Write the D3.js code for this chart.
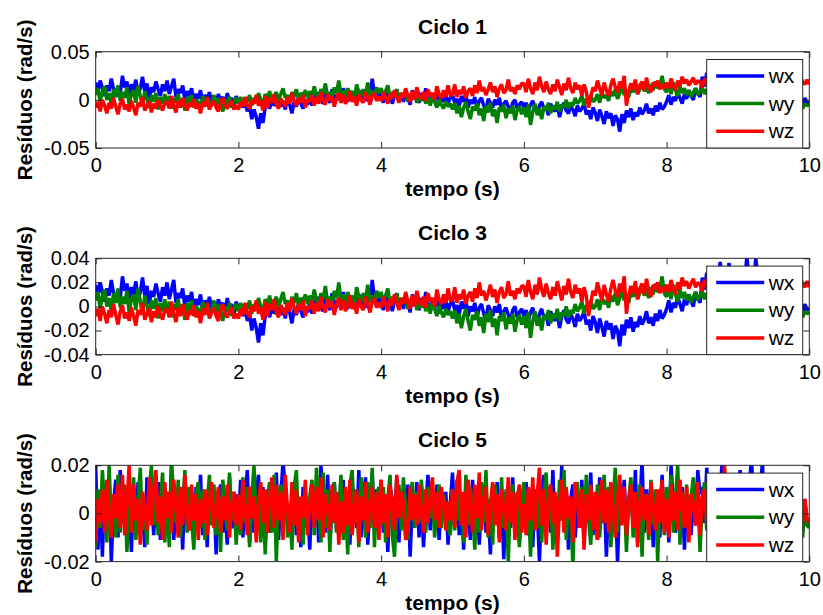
<!DOCTYPE html>
<html>
<head>
<meta charset="utf-8">
<script src="https://cdn.jsdelivr.net/npm/d3@7.9.0/dist/d3.min.js"></script>
<style>
  body { margin: 0; background: #fff; }
  svg { display: block; }
  text { font-family: Arial, "Liberation Sans", sans-serif; fill: #000; }
</style>
</head>
<body>
<svg id="chart" width="823" height="615"></svg>
<script>
// residuos, em 1e-3 rad/s, 32 amostras por segundo (0..10 s)
// ciclos 1 e 3 mostram os mesmos dados
const wxA = [
  18, 8, 20, 12, 4, 15, 9, 22, 11, 3, 14, 7, 25, 13, 19, 6, 16, 10, 21, 5, 12, 24, 9, 17, 2, 13, 8, 19, 11, 4, 16, 9,
  20, 6, 14, 22, 3, 11, 7, 15, 0, 9, 4, 12, -2, 6, 1, 10, -4, 5, 0, 8, -3, 4, -6, 6, -1, 3, -5, 7, -2, 2, -7, 4,
  -3, 2, -8, -2, -12, -6, -20, -10, -18, -30, -14, -24, -8, -3, -9, 1, -6, -2, 4, -7, -1, -10, 2, -5, -14, -2, -7, 3, -4, -9, 0, -5,
  3, -6, 5, -2, 8, 0, -4, 9, 2, -3, 11, 4, -1, 7, 1, 12, 3, -2, 8, 0, 6, -3, 10, 2, 5, -1, 9, 3, 22, 6, 0, 8,
  4, -3, 9, 2, 7, -4, 5, 11, 0, 6, -2, 8, 3, -5, 10, 1, 4, -3, 7, -1, 12, 2, -4, 5, 0, 8, -6, 3, -2, 6, -4, 2,
  5, -3, 1, -7, 4, -2, 6, -8, 0, -4, 3, -9, -1, 2, -6, -11, 1, -3, -8, 0, -5, 2, -10, -4, -1, -7, -12, -3, 0, -9, -5, -2,
  -8, -3, -11, -5, -1, -9, -14, -6, -2, -10, -7, -16, -4, -9, -12, -5, -18, -8, -3, -11, -14, -7, -10, -17, -6, -12, -9, -4, -15, -11, -20, -8,
  -13, -22, -10, -17, -25, -12, -19, -14, -27, -16, -20, -33, -15, -24, -11, -18, -9, -21, -13, -17, -8, -15, -11, -4, -14, -9, -16, -6, -12, -3, -10, -7,
  -2, 5, -5, 3, -1, 8, 2, -4, 6, 1, 10, 4, 0, 12, 7, 3, 24, 14, 28, 18, 25, 20, 30, 16, 37, 22, 27, 19, 36, 24, 29, 21,
  26, 18, 30, 22, 41, 24, 28, 17, 40, 23, 19, 26, 12, 8, 2, 9, -2, 3, -6, 1, -4, -8, 2, -5, 0, -7, 3, -4, -1, -6, 2, -3,
  -2];
const wyA = [
  5, 12, -2, 9, 14, 0, 7, -4, 11, 3, 15, -1, 8, 2, 13, -5, 6, 10, -3, 15, 4, -6, 9, 1, -8, 5, -2, 7, -10, 3, -4, 6,
  -5, 4, -9, 2, -3, 6, -7, 1, -11, 3, -4, 5, -8, 0, -2, -10, 4, -6, 1, -9, -3, 5, -7, 2, -5, -12, 0, -4, 3, -8, -1, 2,
  -4, 3, -7, 1, -2, 5, -6, 2, -3, 7, 0, -5, 6, 1, 9, -2, 4, 8, -1, 6, 12, 2, 5, -3, 8, 3, 11, 0, 7, 4, 10, 2,
  9, 3, 14, 5, 1, 11, 6, 17, 4, 8, 2, 13, 7, 20, 5, 10, 3, 12, 6, 9, 1, 16, 8, 4, 11, 6, 18, 3, 9, 5, 13, 7,
  12, 4, 9, 15, 2, 8, 5, 11, 0, 7, 3, 10, -2, 6, 1, 9, -3, 4, -1, 6, -4, 2, -6, 3, -2, -8, 1, -5, -9, -2, -7, -4,
  -10, -3, -14, -6, -18, -8, -2, -12, -20, -7, -11, -4, -16, -9, -22, -6, -13, -3, -17, -10, -24, -8, -12, -5, -19, -9, -14, -6, -21, -11, -7, -15,
  -8, -18, -5, -26, -12, -4, -16, -9, -20, -7, -11, -3, -14, -6, -10, -2, -12, -5, -8, 0, -9, -3, -6, 2, -4, -1, 4, -6, 1, -3, 5, -2,
  0, 6, -3, 8, 2, 5, -1, 9, 4, 11, 1, 7, 13, 5, 10, 3, 12, 8, 15, 6, 11, 17, 9, 13, 7, 16, 10, 19, 12, 15, 25, 11,
  8, 15, 6, 18, 10, 4, 14, 7, 12, 5, 10, 3, 8, 12, 5, 9, 13, 6, 11, 2, 9, 14, 7, 10, 4, 12, 8, 5, 11, 6, 9, 3,
  7, 11, 4, 9, 2, 8, 5, 10, 3, 6, 0, 7, 2, 5, -2, 4, 1, -3, 3, -5, 0, 2, -4, 1, -6, -2, -8, -3, -5, -9, -4, -6,
  -5];
const wzA = [
  -8, -2, -12, 0, -6, -14, -3, -9, 2, -7, -15, -4, 1, -10, -5, -12, -1, -8, -16, -3, -7, 3, -11, -6, -2, -13, -4, -9, 0, -6, -11, -3,
  -2, -9, 4, -6, -13, -1, -8, 2, -5, -11, -3, -7, 1, -9, -4, -14, -2, -7, 3, -10, -5, -1, -8, -12, -3, 2, -6, -9, -4, -1, -10, -6,
  -10, -2, -7, 3, -5, -9, 0, -4, 5, -6, -1, -11, 4, -8, 2, -3, 6, -5, -9, 1, -2, -7, 3, -4, 7, -1, -6, 2, -3, 5, -8, 0,
  -2, 5, -6, 3, -4, 8, 0, -5, 6, -1, 4, -7, 2, 7, -3, 5, -4, 1, 9, -2, 3, -6, 6, 0, -3, 8, 2, -5, 4, 7, -1, 3,
  -1, 8, 2, -4, 6, 1, 10, 3, -3, 7, 2, 12, 4, -2, 9, 0, 13, 5, 1, 8, -1, 11, 4, 7, 0, 14, 6, 2, 10, 3, 15, 5,
  5, 16, 3, 10, 6, 14, 2, 9, 12, 4, 15, 7, 20, 9, 13, 5, 11, 18, 8, 14, 3, 12, 16, 7, 10, 21, 9, 13, 6, 15, 11, 17,
  17, 8, 22, 12, 6, 18, 10, 24, 14, 8, 19, 11, 6, 16, 9, 21, 13, 5, 17, 10, 23, 12, 7, 18, 11, 15, 4, 16, 9, -8, 3, 13,
  9, 20, 12, 5, 18, 10, 4, 15, 22, 13, 8, 19, 12, 25, -6, 9, 17, 11, 21, 6, 15, 19, 10, 23, 13, 8, 18, 14, 20, 11, 16, 12,
  18, 12, 22, 15, 10, 20, 14, 24, 17, 21, 15, 19, 23, 16, 20, 18, 13, 22, 17, 25, 19, 15, 21, 18, 23, 16, 20, 14, 22, 19, 17, 21,
  22, 15, 19, 24, 17, 21, 14, 20, 18, 23, 16, 21, 19, 17, 22, 15, 20, 24, 18, 21, 16, 19, 23, 17, 20, 15, 22, 18, 24, 19, 16, 21,
  16];
// ciclo 5
const wxB = [
  20, -15, 8, -18, 12, -6, 16, -20, 4, 14, -10, 18, -4, 9, -12, 6, -16, 11, -5, 13, -8, 3, -14, 15, -2, 10, -9, 7, 13, -11, 5, -7,
  9, -6, 21, -11, 4, -3, 8, -15, 14, 2, -7, 4, -12, 11, -5, 16, -9, 6, -14, 13, -2, 10, -17, 5, 12, -8, 3, -13, 15, -6, -4, 8,
  -4, 14, -10, 7, 18, -12, 2, -8, 9, 16, -7, 11, -13, 4, -8, 13, -5, 17, -11, 6, 22, 10, -3, -9, 8, 12, -9, 4, -14, 11, -6, 3,
  -15, 9, -2, 9, -12, 20, 6, -8, 16, -11, 3, 13, -7, 8, -4, 14, -9, 5, -13, 12, 7, -6, 18, -10, 7, 15, -13, 3, 17, -7, 10, -5,
  14, -8, 4, -16, 11, 6, -3, 15, -12, 9, 2, -9, 12, -18, 5, -6, 13, -10, 8, -14, 3, 16, -7, 10, -4, 12, -11, 6, -2, 9, -13, 4,
  17, -5, 11, -9, 6, -15, 10, 3, -11, 14, -6, 8, -13, 5, 12, -8, 2, -17, 9, -3, 13, -10, 7, -19, 4, 11, -6, 15, -9, 3, -12, 8,
  -5, 13, -9, 6, -14, 10, 2, -20, 7, 16, -4, 11, -8, 18, -12, 5, -3, 20, -7, 9, -15, 6, 12, -10, 3, -6, 14, -13, 8, -2, 17, -9,
  6, -11, 15, -4, 9, -18, 4, 12, -7, 10, -21, 7, -3, 14, -9, 5, 11, -6, 18, -12, 3, 22, -8, 10, -5, 13, -14, 8, 2, -10, 16, -6,
  9, -12, 20, 5, -8, 14, -3, 11, -15, 7, 2, -9, 13, -5, 18, 8, 11, -4, 19, 3, 9, -6, 14, 5, 10, 22, 8, 12, -3, 15, 4, 10,
  6, 18, 2, 12, -5, 9, 23, 7, 14, -2, 11, 21, -6, 9, -11, 5, -8, 12, -4, 7, -13, 3, 9, -6, 11, -9, 4, -3, 10, -7, 6, -5,
  -4];
const wyB = [
  -14, 10, -6, 18, 3, -12, 20, -4, 8, -10, 16, -8, 5, 12, -16, 7, -3, 15, -11, 6, 19, -7, 2, -13, 10, 20, -5, 13, -9, 4, 17, -12,
  6, -14, 20, 9, -4, 14, -10, 3, 18, -8, 11, -2, -15, 8, 13, -6, 10, -11, 4, 16, -5, 12, -9, 7, -16, 14, 2, -7, 17, -3, 9, -13,
  5, -9, 15, -4, 11, -14, 7, 20, -6, 3, -12, 10, -17, 6, 13, -8, 16, -20, 8, 12, -5, 15, -10, 4, -15, 11, 18, -7, 2, -13, 9, -6,
  7, 14, -9, 19, 3, -12, 17, -6, 10, -16, 5, 13, -8, 2, 16, -11, 6, -17, 12, 18, -4, 9, -14, 15, 3, -10, 13, -6, 19, -14, 8, 11,
  -5, 11, -12, 6, 16, -9, -18, 4, 12, -7, 15, 2, -11, 8, 13, -6, 9, -4, 14, 3, -8, 11, -2, 7, -10, 5, 12, -6, 8, 3, -5, -9,
  10, -7, 14, -3, 8, -12, 16, -5, 11, 2, -15, 9, -8, 13, -4, 18, -10, 6, -13, 12, 4, -9, 15, -6, 10, -20, 7, 12, -3, 9, -14, 5,
  13, -8, 6, -18, 11, 3, -6, 15, -12, 8, 17, -4, 10, -15, 5, -9, 14, -3, 18, -11, 7, 2, -22, 9, 13, -5, 11, -8, 16, -2, -13, 7,
  -6, 12, -10, 8, 16, -4, 11, -14, 5, 19, -8, 13, -3, 9, -16, 6, 15, -10, 4, -7, 12, -18, 8, 3, -11, 14, -5, 10, -20, 7, 13, -9,
  11, -4, 16, -8, 6, 20, -13, 9, -5, 12, -9, 7, 15, -2, 10, -16, 5, 13, -7, 9, -3, 11, -12, 6, 14, -8, 4, -10, 8, 12, -5, 9,
  -4, 14, 3, -8, 11, -2, 7, -10, 5, 12, -6, 8, 3, -5, -9, 6, -12, 4, 10, -7, 2, -11, 8, -3, 5, -8, 1, -6, 7, -10, 3, -5,
  -6];
const wzB = [
  -12, 6, -4, 10, -8, 14, 2, -10, 8, -2, 12, -6, 16, -9, 4, 20, -8, 12, -3, 6, -13, 9, 2, -7, 15, -5, 10, 18, -4, 7, -11, 13,
  -2, 9, -8, 14, 3, -10, 11, -5, 16, 1, -7, 12, -3, 8, -11, 6, -4, 10, -9, 5, 13, -6, 2, 11, -8, 7, -3, 12, -10, 4, 9, -5,
  8, -7, 14, 3, -9, 11, -2, 7, -12, 5, 13, -4, 10, -8, 6, 15, -6, 12, -3, 9, -11, 16, 2, -8, 13, -5, 10, -12, 7, -2, 14, -9,
  4, 12, -6, 11, -3, 15, -10, 8, 2, -7, 12, -4, 9, -13, 5, -8, 11, -5, 14, -9, 3, 10, -12, 7, -3, 13, -8, 5, 11, -6, 9, -11,
  14, -4, 8, -10, 12, 3, -7, 16, -2, 9, 5, -11, -6, 11, -3, 8, -5, 12, 2, -8, 10, -4, 7, 15, -3, 9, -6, 11, 4, -7, 5, -3,
  10, -6, 13, 18, -5, 9, -10, 14, 3, -8, 12, -2, 17, -7, 6, 11, -9, 4, 13, -5, 8, -12, 10, 2, -7, 15, -4, 9, -11, 6, 12, -8,
  4, -9, 11, -3, 15, -7, 8, 19, -5, 10, -13, 6, 12, -4, 9, -18, 3, 14, -8, 11, -2, 7, -12, 13, 5, -6, 10, -15, 8, -3, 12, -7,
  9, -11, 6, 14, -4, 10, -8, 13, 2, -10, 7, 16, -5, 11, -9, 4, 12, -6, 9, -14, 5, 11, -3, 8, -9, 13, 3, -7, 10, -4, 14, -8,
  6, -10, 12, -3, 9, -7, 14, 2, -6, 11, -12, 8, 4, -5, 13, -9, 7, 10, -4, 15, -2, 9, -8, 12, 5, -6, 20, 3, -4, 11, -7, 8,
  -5, 12, 2, -8, 10, -4, 7, 15, -3, 9, -6, 11, 4, -7, 5, -3, 8, -9, 6, 12, -5, 10, -2, 7, -8, 11, 3, -6, 9, -4, 6, -2,
  -4];

const series = ['wx', 'wy', 'wz'];
const colors = ['#0000ff', '#008000', '#ff0000'];
const xTicks = [0, 2, 4, 6, 8, 10];
const titles = ['Ciclo 1', 'Ciclo 3', 'Ciclo 5'];
const yDomains = [[-0.05, 0.05], [-0.04, 0.04], [-0.02, 0.02]];
const yTicks = [[-0.05, 0, 0.05], [-0.04, -0.02, 0, 0.02, 0.04], [-0.02, 0, 0.02]];
const yTickLabels = [['-0.05', '0', '0.05'], ['-0.04', '-0.02', '0', '0.02', '0.04'], ['-0.02', '0', '0.02']];
const panelData = [[wxA, wyA, wzA], [wxA, wyA, wzA], [wxB, wyB, wzB]];

const svg = d3.select('#chart');
const left = 95.7, right = 809.3;
const tops = [51.7, 258.3, 465.3];
const plotH = 96.3;

const x = d3.scaleLinear().domain([0, 10]).range([left, right]);

titles.forEach((title, p) => {
  const top = tops[p], bottom = top + plotH;
  const y = d3.scaleLinear().domain(yDomains[p]).range([bottom, top]);
  const g = svg.append('g');

  g.append('clipPath').attr('id', 'clip' + p)
    .append('rect').attr('x', left).attr('y', top)
    .attr('width', right - left).attr('height', plotH);

  const line = d3.line().x((d, i) => x(i / 32)).y(d => y(d / 1000));

  panelData[p].forEach((vals, k) => {
    g.append('path')
      .attr('d', line(vals))
      .attr('clip-path', `url(#clip${p})`)
      .attr('fill', 'none')
      .attr('stroke', colors[k])
      .attr('stroke-width', 3.5)
      .attr('stroke-linejoin', 'bevel');
  });

  // caixa dos eixos
  g.append('rect').attr('x', left).attr('y', top)
    .attr('width', right - left).attr('height', plotH)
    .attr('fill', 'none').attr('stroke', '#262626').attr('stroke-width', 1);

  // ticks x (para dentro, em cima e em baixo)
  g.append('g').attr('transform', `translate(0,${bottom})`)
    .call(d3.axisBottom(x).tickValues(xTicks).tickSizeInner(-6).tickSizeOuter(0).tickPadding(10))
    .call(a => a.select('.domain').remove())
    .call(a => a.selectAll('line').attr('stroke', '#262626'))
    .call(a => a.selectAll('text').attr('font-size', 20).attr('fill', '#000'));
  g.append('g').attr('transform', `translate(0,${top})`)
    .call(d3.axisTop(x).tickValues(xTicks).tickSizeInner(-6).tickSizeOuter(0).tickFormat(''))
    .call(a => a.select('.domain').remove())
    .call(a => a.selectAll('line').attr('stroke', '#262626'));

  // ticks y
  g.append('g').attr('transform', `translate(${left},0)`)
    .call(d3.axisLeft(y).tickValues(yTicks[p]).tickSizeInner(-6).tickSizeOuter(0).tickPadding(6)
      .tickFormat((d, i) => yTickLabels[p][i]))
    .call(a => a.select('.domain').remove())
    .call(a => a.selectAll('line').attr('stroke', '#262626'))
    .call(a => a.selectAll('text').attr('font-size', 20).attr('fill', '#000'));
  g.append('g').attr('transform', `translate(${right},0)`)
    .call(d3.axisRight(y).tickValues(yTicks[p]).tickSizeInner(-6).tickSizeOuter(0).tickFormat(''))
    .call(a => a.select('.domain').remove())
    .call(a => a.selectAll('line').attr('stroke', '#262626'));

  // titulo e rotulos
  g.append('text').attr('x', (left + right) / 2).attr('y', top - 18)
    .attr('text-anchor', 'middle').attr('font-size', 21).attr('font-weight', 'bold')
    .text(title);
  g.append('text').attr('x', (left + right) / 2).attr('y', bottom + 48)
    .attr('text-anchor', 'middle').attr('font-size', 21).attr('font-weight', 'bold')
    .text('tempo (s)');
  g.append('text')
    .attr('transform', `translate(32,${(top + bottom) / 2}) rotate(-90)`)
    .attr('text-anchor', 'middle').attr('font-size', 20.5).attr('font-weight', 'bold')
    .text('Resíduos (rad/s)');

  // legenda
  const lx = 706.7, lw = 96, lh = 88.5, ly = bottom - lh;
  const leg = g.append('g');
  leg.append('rect').attr('x', lx).attr('y', ly).attr('width', lw).attr('height', lh)
    .attr('fill', '#fff').attr('stroke', '#262626').attr('stroke-width', 1);
  series.forEach((s, k) => {
    const yy = ly + 16.4 + k * 27.7;
    leg.append('line').attr('x1', lx + 9.5).attr('x2', lx + 57.5)
      .attr('y1', yy).attr('y2', yy)
      .attr('stroke', colors[k]).attr('stroke-width', 3.5);
    leg.append('text').attr('x', lx + 62).attr('y', yy + 7)
      .attr('font-size', 21).text(s);
  });
});
</script>
</body>
</html>
